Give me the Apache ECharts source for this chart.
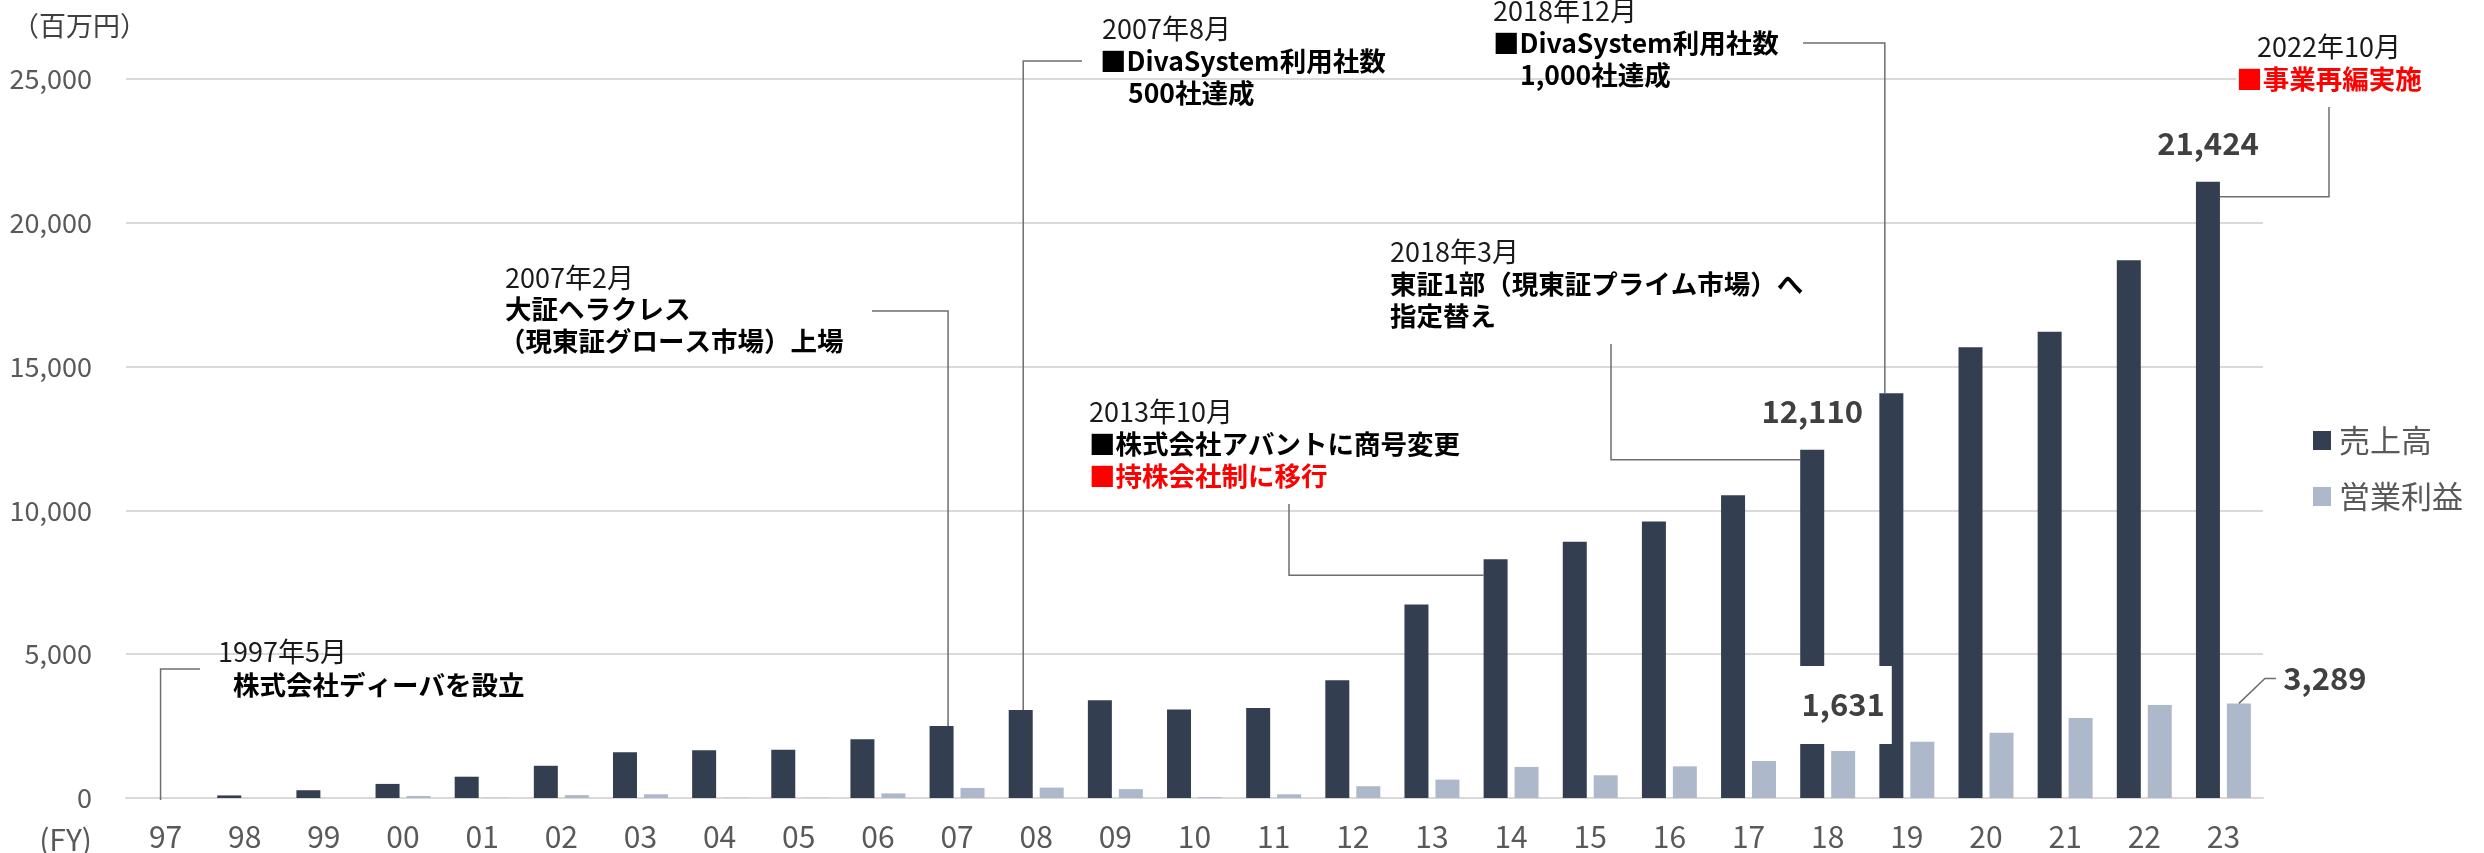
<!DOCTYPE html>
<html>
<head>
<meta charset="utf-8">
<title>売上高・営業利益の推移</title>
<script src="https://cdn.jsdelivr.net/npm/echarts@6.0.0/dist/echarts.min.js"></script>
<style>
  html, body { margin: 0; padding: 0; background: #fff; }
  #chart { width: 2484px; height: 853px; }
</style>
</head>
<body>
<div id="chart"></div>
<script>
// 年度（FY）
var years = ['97', '98', '99', '00', '01', '02', '03', '04', '05', '06', '07', '08', '09',
  '10', '11', '12', '13', '14', '15', '16', '17', '18', '19', '20', '21', '22', '23'];
// 売上高（百万円）
var sales = [0, 90, 270, 490, 740, 1120, 1590, 1660, 1680, 2040, 2500, 3060, 3400,
  3080, 3130, 4090, 6730, 8300, 8910, 9610, 10530, 12110, 14070, 15670, 16210, 18700, 21424];
// 営業利益（百万円）
var profit = [0, 0, 0, 70, 10, 100, 130, 10, 10, 160, 350, 360, 310,
  30, 130, 410, 640, 1080, 790, 1100, 1290, 1631, 1960, 2270, 2780, 3230, 3289];
// y軸目盛
var yMin = 0, yMax = 25000, yStep = 5000;
// 数値ラベルを出す年度
var salesLabelAt = [21, 26];
var profitBoxAt = 21;
var profitSideAt = 26;

var FONT = '"Noto Sans CJK JP", "Noto Sans", sans-serif';

function comma(v) {
  return String(v).replace(/\B(?=(\d{3})+(?!\d))/g, ',');
}

var chart = echarts.init(document.getElementById('chart'));

var labelBase = {
  show: false,
  position: 'top',
  fontFamily: FONT,
  fontSize: 31,
  lineHeight: 31,
  fontWeight: 'bold',
  color: '#404040',
  formatter: function (p) { return comma(p.value); }
};

var salesData = sales.map(function (v, i) {
  if (salesLabelAt.indexOf(i) >= 0) return { value: v, label: { show: true } };
  return v;
});
var profitData = profit.map(function (v, i) {
  if (i === profitBoxAt) {
    return { value: v, label: { show: true, distance: 7, backgroundColor: '#fff', padding: [23, 7, 24, 7] } };
  }
  if (i === profitSideAt) {
    return { value: v, label: { show: true, distance: 10, offset: [86, 0] } };
  }
  return v;
});

chart.setOption({
  animation: false,
  textStyle: { fontFamily: FONT },
  grid: { left: 126, right: 221, top: 79, bottom: 55 },
  legend: {
    orient: 'vertical',
    left: 2308,
    top: 420,
    itemWidth: 18,
    itemHeight: 19,
    itemGap: 25,
    icon: 'rect',
    textStyle: { fontFamily: FONT, fontSize: 31, color: '#595959', padding: [0, 0, 0, 3] },
    data: ['売上高', '営業利益']
  },
  xAxis: {
    type: 'category',
    data: years,
    axisTick: { show: false },
    axisLine: { lineStyle: { color: '#d9d9d9', width: 2 } },
    axisLabel: { fontFamily: FONT, fontSize: 30, color: '#595959', margin: 24 }
  },
  yAxis: {
    type: 'value',
    min: yMin,
    max: yMax,
    interval: yStep,
    axisLine: { show: false },
    axisTick: { show: false },
    splitLine: { lineStyle: { color: '#d9d9d9', width: 2 } },
    axisLabel: {
      fontFamily: FONT, fontSize: 27, color: '#595959', margin: 34,
      formatter: function (v) { return comma(v); }
    }
  },
  series: [
    {
      name: '売上高',
      type: 'bar',
      barWidth: 24,
      barGap: '29%',
      itemStyle: { color: '#333f50' },
      label: Object.assign({}, labelBase, { distance: 23 }),
      data: salesData
    },
    {
      name: '営業利益',
      type: 'bar',
      barWidth: 24,
      barGap: '29%',
      itemStyle: { color: '#adb9ca' },
      label: labelBase,
      data: profitData
    }
  ]
});

// 注記テキスト
var notes = [
  { t: '1997年5月', x: 218, y: 652, k: 'date' },
  { t: '株式会社ディーバを設立', x: 233, y: 685, k: 'bold' },
  { t: '2007年2月', x: 505, y: 278, k: 'date' },
  { t: '大証ヘラクレス', x: 505, y: 309, k: 'bold' },
  { t: '（現東証グロース市場）上場', x: 499, y: 341, k: 'bold' },
  { t: '2007年8月', x: 1102, y: 29, k: 'date' },
  { t: '■DivaSystem利用社数', x: 1100, y: 61, k: 'bold' },
  { t: '500社達成', x: 1128, y: 93, k: 'bold' },
  { t: '2013年10月', x: 1089, y: 412, k: 'date' },
  { t: '■株式会社アバントに商号変更', x: 1089, y: 444, k: 'bold' },
  { t: '■持株会社制に移行', x: 1089, y: 476, k: 'red' },
  { t: '2018年3月', x: 1390, y: 252, k: 'date' },
  { t: '東証1部（現東証プライム市場）へ', x: 1390, y: 284, k: 'bold' },
  { t: '指定替え', x: 1390, y: 316, k: 'bold' },
  { t: '2018年12月', x: 1493, y: 11, k: 'date' },
  { t: '■DivaSystem利用社数', x: 1493, y: 43, k: 'bold' },
  { t: '1,000社達成', x: 1520, y: 75, k: 'bold' },
  { t: '2022年10月', x: 2329, y: 47, k: 'date', a: 'center' },
  { t: '■事業再編実施', x: 2329, y: 79, k: 'red', a: 'center', bg: true }
];

function P(i, v) {
  return chart.convertToPixel({ xAxisIndex: 0, yAxisIndex: 0 }, [i, v]);
}

function drawNotes() {
  var g = [];
  // 軸まわりの単位
  g.push({ type: 'text', x: 12, y: 26, style: { text: '（百万円）', fontFamily: FONT, fontSize: 27, fill: '#404040', verticalAlign: 'middle' } });
  g.push({ type: 'text', x: 92, y: 840, style: { text: '(FY)', fontFamily: FONT, fontSize: 30, fill: '#595959', align: 'right', verticalAlign: 'middle' } });

  notes.forEach(function (n) {
    var st = {
      text: n.t,
      fontFamily: FONT,
      fontSize: n.k === 'date' ? 27 : 26.5,
      fontWeight: n.k === 'date' ? 'normal' : 'bold',
      fill: n.k === 'red' ? '#ff0000' : (n.k === 'date' ? '#1a1a1a' : '#000'),
      align: n.a || 'left',
      verticalAlign: 'middle'
    };
    if (n.bg) st.backgroundColor = '#fff';
    g.push({ type: 'text', x: n.x, y: n.y, z: 10, style: st });
  });

  // 引き出し線（棒の位置は軸から換算）
  var lines = [];
  var p;
  p = P(0, 0);
  lines.push([[p[0] - 5, p[1] + 2], [p[0] - 5, 669], [200, 669]]);
  p = P(10, sales[10]);
  lines.push([[p[0] - 9, p[1]], [p[0] - 9, 311], [872, 311]]);
  p = P(11, sales[11]);
  lines.push([[p[0] - 13, p[1]], [p[0] - 13, 61], [1082, 61]]);
  p = P(17, sales[17]);
  lines.push([[p[0] - 27.5, p[1] + 16], [1289, p[1] + 16], [1289, 504]]);
  p = P(21, sales[21]);
  lines.push([[p[0] - 27.5, p[1] + 10], [1611, p[1] + 10], [1611, 344]]);
  p = P(22, sales[22]);
  lines.push([[p[0] - 22, p[1]], [p[0] - 22, 43], [1803, 43]]);
  p = P(26, sales[26]);
  lines.push([[p[0] - 3.5, p[1] + 15], [2329, p[1] + 15], [2329, 107]]);
  p = P(26, profit[26]);
  var bx = p[0] + 15.5;
  lines.push([[bx, p[1]], [bx + 26, p[1] - 25], [bx + 37, p[1] - 25]]);

  lines.forEach(function (pts) {
    g.push({ type: 'polyline', z: 5, shape: { points: pts }, style: { stroke: '#6e6e6e', lineWidth: 1.5, fill: null } });
  });

  chart.setOption({ graphic: g });
}

drawNotes();
</script>
</body>
</html>
